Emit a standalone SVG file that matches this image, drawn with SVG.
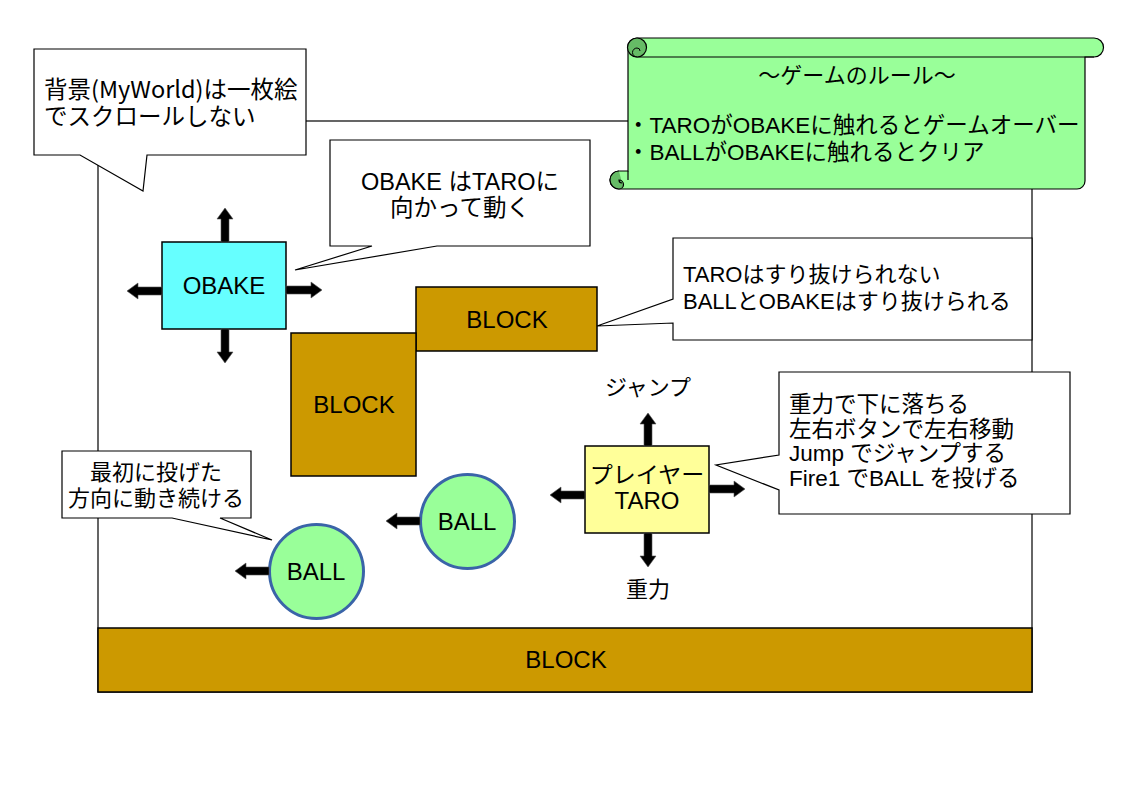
<svg xmlns="http://www.w3.org/2000/svg" width="1123" height="794" viewBox="0 0 1123 794">
<style>
text{font-family:"Liberation Sans","Noto Sans CJK JP",sans-serif;font-size:22px;fill:#000}
.cjk{font-family:"Noto Sans CJK JP","Liberation Sans",sans-serif}
.mid{text-anchor:middle}
.lbl{font-size:24px}
.block{fill:#cc9900;stroke:#000;stroke-width:1.5}
.call{fill:#fff;stroke:#000;stroke-width:1.2}
.arr{fill:#000;stroke:#555;stroke-width:0.6}
.ball{fill:#99ff99;stroke:#3a64a8;stroke-width:3}
</style>
<rect id="world" x="98" y="121" width="934" height="571" fill="#fff" stroke="#000" stroke-width="1.2"/>

<g id="scroll">
<path d="M628,47 A9,9 0 0 1 637,38 H1094 A9.5,9.5 0 0 1 1094,57 H1085 V181 A8,8 0 0 1 1077,189 H619 A9,9 0 0 1 619,171 H628 Z" fill="#99ff99" stroke="#000" stroke-width="1.2"/>
<path d="M637,57 H1094" fill="none" stroke="#000" stroke-width="1.2"/>
<circle cx="637" cy="47.5" r="9.5" fill="#66bb66" stroke="#000" stroke-width="1.2"/>
<path d="M637,57 A4.5,4.5 0 0 1 637,48 A3,3 0 0 1 640,51" fill="none" stroke="#000" stroke-width="1"/>
<path d="M619,171 A9,9 0 0 0 619,189 A4.5,4.5 0 0 0 619,180 A3,3 0 0 0 622,183" fill="#66bb66" stroke="#000" stroke-width="1.2"/>
<path d="M628,171 V180" fill="none" stroke="#000" stroke-width="1.2"/>
<text class="mid" x="857" y="83">〜ゲームのルール〜</text>
<text x="627" y="133" style="font-size:22.5px">・TAROがOBAKEに触れるとゲームオーバー</text>
<text x="627" y="160" style="font-size:22.5px">・BALLがOBAKEに触れるとクリア</text>
</g>

<g id="callout-world">
<path class="call" d="M34,49 H306 V155 H147 L143,191 L80,155 H34 Z"/>
<text class="cjk" x="44" y="98" style="font-size:23.5px">背景(MyWorld)は一枚絵</text>
<text class="cjk" x="44" y="125" style="font-size:23.5px">でスクロールしない</text>
</g>

<g id="callout-obake">
<path class="call" d="M330,140 H590 V246 H437 L295,270 L372,246 H330 Z"/>
<text class="mid" x="460" y="190" style="font-size:23.5px">OBAKE はTAROに</text>
<text class="mid" x="460" y="216" style="font-size:23.5px">向かって動く</text>
</g>

<g id="obake">
<rect x="162" y="242" width="124" height="87" fill="#66ffff" stroke="#000" stroke-width="1.5"/>
<text class="mid lbl" x="224" y="294">OBAKE</text>
</g>

<g id="block1">
<rect class="block" x="416" y="287" width="181" height="64"/>
<text class="mid lbl" x="507" y="328">BLOCK</text>
</g>

<g id="block2">
<rect class="block" x="291" y="333" width="125" height="143"/>
<text class="mid lbl" x="354" y="413">BLOCK</text>
</g>

<g id="callout-block">
<path class="call" d="M673,238 H1032 V340 H673 V323 L597,326 L673,299 Z"/>
<text x="683" y="282">TAROはすり抜けられない</text>
<text x="683" y="309">BALLとOBAKEはすり抜けられる</text>
</g>

<g id="taro">
<rect x="585" y="446" width="124" height="87" fill="#ffff99" stroke="#000" stroke-width="1.5"/>
<text class="mid" x="647" y="483" style="font-size:23px">プレイヤー</text>
<text class="mid lbl" x="647" y="509">TARO</text>
</g>
<text class="mid" x="648" y="395">ジャンプ</text>
<text class="mid" x="648" y="597">重力</text>

<g id="callout-taro">
<path class="call" d="M779,372 H1070 V514 H779 V490 L716,465 L779,455 Z"/>
<text x="789" y="412" style="font-size:22.5px">重力で下に落ちる</text>
<text x="789" y="437" style="font-size:22.5px">左右ボタンで左右移動</text>
<text x="789" y="461" style="font-size:22.5px">Jump でジャンプする</text>
<text x="789" y="486" style="font-size:22.5px">Fire1 でBALL を投げる</text>
</g>

<g id="ball1">
<circle class="ball" cx="467.5" cy="521.5" r="47"/>
<text class="mid lbl" x="467" y="530">BALL</text>
</g>

<g id="ball2">
<circle class="ball" cx="316.5" cy="571.5" r="47"/>
<text class="mid lbl" x="316" y="580">BALL</text>
</g>

<g id="callout-ball">
<path class="call" d="M62,451 H251 V518 H220 L272,540 L172,518 H62 Z"/>
<text class="cjk mid" x="156" y="480">最初に投げた</text>
<text class="cjk mid" x="156" y="506">方向に動き続ける</text>
</g>

<g id="block-floor">
<rect class="block" x="98" y="628" width="934" height="64"/>
<text class="mid lbl" x="566" y="668">BLOCK</text>
</g>

<g id="connectors">
<polygon class="arr" points="221,242 221,219 217,219 225,208 233,219 229,219 229,242"/>
<polygon class="arr" points="221,329 221,352 217,352 225,363 233,352 229,352 229,329"/>
<polygon class="arr" points="162,287 138,287 138,283 127,291 138,299 138,295 162,295"/>
<polygon class="arr" points="286,286 311,286 311,282 322,290 311,298 311,294 286,294"/>
<polygon class="arr" points="644,446 644,424 640,424 648,413 656,424 652,424 652,446"/>
<polygon class="arr" points="644,533 644,556 640,556 648,567 656,556 652,556 652,533"/>
<polygon class="arr" points="585,491 561,491 561,487 550,495 561,503 561,499 585,499"/>
<polygon class="arr" points="709,485 734,485 734,481 745,489 734,497 734,493 709,493"/>
<polygon class="arr" points="420,517 397,517 397,513 386,521 397,529 397,525 420,525"/>
<polygon class="arr" points="269,567 246,567 246,563 235,571 246,579 246,575 269,575"/>
</g>
</svg>
